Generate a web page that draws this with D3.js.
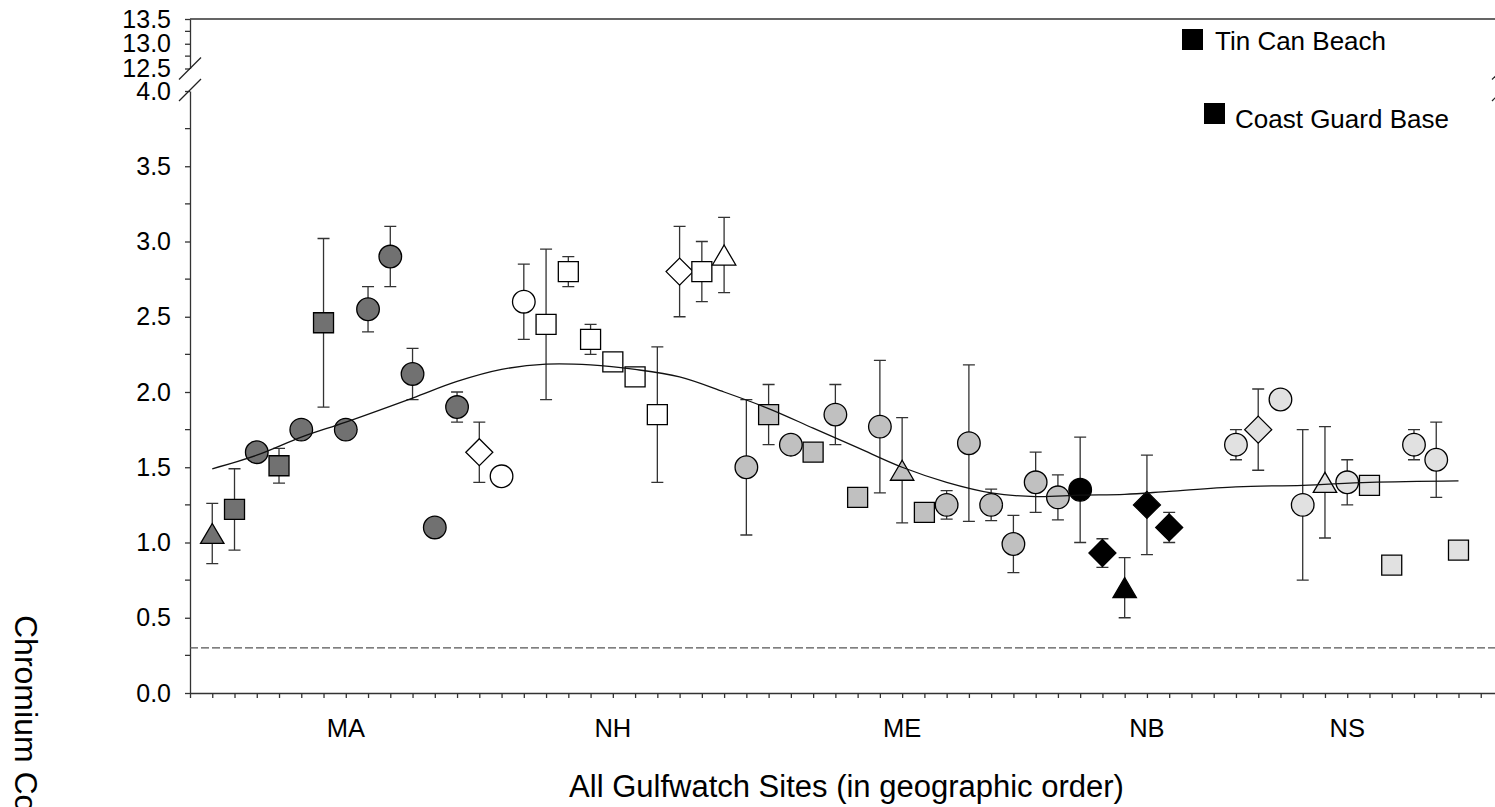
<!DOCTYPE html>
<html>
<head>
<meta charset="utf-8">
<script src="https://cdn.jsdelivr.net/npm/d3@7/dist/d3.min.js"></script>
<style>
    body { margin: 0; background: #fff; }
    svg { display: block; font-family: "Liberation Sans", Arial, sans-serif; }
</style>
</head>
<body>
<div id="chart"></div>
<script>
'use strict';

// site number along the coast (45 and 46 have no sample)
var siteOrder = [1, 2, 3, 4, 5, 6, 7, 8, 9, 10, 11, 12,
    13, 14, 15, 16, 17, 18, 19, 20, 21, 22, 23, 24,
    25, 26, 27, 28, 29, 30, 31, 32, 33, 34, 35, 36, 37, 38, 39,
    40, 41, 42, 43, 44,
    47, 48, 49, 50, 51, 52, 53, 54, 55, 56, 57];
var chromiumMean = [1.06, 1.22, 1.60, 1.51, 1.75, 2.46, 1.75, 2.55, 2.90, 2.12, 1.10, 1.90,
    1.60, 1.44, 2.60, 2.45, 2.80, 2.35, 2.20, 2.10, 1.85, 2.80, 2.80, 2.91,
    1.50, 1.85, 1.65, 1.60, 1.85, 1.30, 1.77, 1.48, 1.20, 1.25, 1.66, 1.25, 0.99, 1.40, 1.30,
    1.35, 0.93, 0.70, 1.25, 1.10,
    1.65, 1.75, 1.95, 1.25, 1.40, 1.40, 1.38, 0.85, 1.65, 1.55, 0.95];
var chromiumSd = [0.20, 0.27, null, 0.115, null, 0.56, null, 0.15, 0.20, 0.17, null, 0.10,
    0.20, null, 0.25, 0.50, 0.10, 0.10, null, null, 0.45, 0.30, 0.20, 0.25,
    0.45, 0.20, null, null, 0.20, null, 0.44, 0.35, null, 0.095, 0.52, 0.105, 0.19, 0.20, 0.15,
    0.35, 0.095, 0.20, 0.33, 0.10,
    0.10, 0.27, null, 0.50, 0.37, 0.15, null, null, 0.10, 0.25, null];
var markerShape = ['triangle', 'square', 'circle', 'square', 'circle', 'square', 'circle', 'circle', 'circle', 'circle', 'circle', 'circle',
    'diamond', 'circle', 'circle', 'square', 'square', 'square', 'square', 'square', 'square', 'diamond', 'square', 'triangle',
    'circle', 'square', 'circle', 'square', 'circle', 'square', 'circle', 'triangle', 'square', 'circle', 'circle', 'circle', 'circle', 'circle', 'circle',
    'circle', 'diamond', 'triangle', 'diamond', 'diamond',
    'circle', 'diamond', 'circle', 'circle', 'triangle', 'circle', 'square', 'square', 'circle', 'circle', 'square'];
var siteState = ['MA', 'MA', 'MA', 'MA', 'MA', 'MA', 'MA', 'MA', 'MA', 'MA', 'MA', 'MA',
    'NH', 'NH', 'NH', 'NH', 'NH', 'NH', 'NH', 'NH', 'NH', 'NH', 'NH', 'NH',
    'ME', 'ME', 'ME', 'ME', 'ME', 'ME', 'ME', 'ME', 'ME', 'ME', 'ME', 'ME', 'ME', 'ME', 'ME',
    'NB', 'NB', 'NB', 'NB', 'NB',
    'NS', 'NS', 'NS', 'NS', 'NS', 'NS', 'NS', 'NS', 'NS', 'NS', 'NS'];

var stateNames = ['MA', 'NH', 'ME', 'NB', 'NS'];
var stateLabelSite = [7, 19, 32, 43, 52];

// smoothed trend
var trendSite = [1, 3, 5, 7, 10, 12, 14, 16, 18, 20, 22, 24, 26, 28, 30, 32, 34, 36, 38, 40, 42, 44, 47, 50, 53, 57];
var trendValue = [1.49, 1.58, 1.70, 1.80, 1.96, 2.07, 2.15, 2.185, 2.18, 2.15, 2.10, 2.00, 1.89, 1.76, 1.63, 1.50,
    1.40, 1.33, 1.305, 1.315, 1.32, 1.34, 1.37, 1.38, 1.40, 1.41];

var lowerTicks = [0, 0.5, 1, 1.5, 2, 2.5, 3, 3.5, 4];
var lowerMinor = [0.25, 0.75, 1.25, 1.75, 2.25, 2.75, 3.25, 3.75];
var upperTicks = [12.5, 13, 13.5];
var upperMinor = [12.75, 13.25];
var detectionLimit = 0.3;
var legendLabels = ['Tin Can Beach', 'Coast Guard Base'];

var stateFill = { MA: '#717171', NH: '#ffffff', ME: '#c0c0c0', NB: '#000000', NS: '#e1e1e1' };

var width = 1495, height = 807;
var left = 190, right = 1503;

var svg = d3.select('#chart').append('svg')
    .attr('width', width)
    .attr('height', height);

var x = d3.scaleLinear().domain([0, 59]).range([left, right]);
var yLow = d3.scaleLinear().domain([0, 4]).range([693, 91]);
var yUp = d3.scaleLinear().domain([12.5, 13.5]).range([68.5, 19]);

var fmt = d3.format('.1f');

var drawAxis = function (scale, ticks, minor) {
    var g = svg.append('g')
        .attr('transform', 'translate(' + left + ',0)')
        .call(d3.axisLeft(scale).tickValues(ticks).tickFormat(fmt)
            .tickSize(5).tickSizeOuter(0).tickPadding(14));
    g.selectAll('.tick text').attr('font-size', 25).attr('fill', '#000');
    g.selectAll('line, path').attr('stroke', '#333').attr('stroke-width', 1.3);
    g.selectAll('.minor')
        .data(minor)
        .enter()
        .append('line')
        .attr('x1', -5).attr('x2', 0)
        .attr('y1', function (d) { return scale(d); })
        .attr('y2', function (d) { return scale(d); })
        .attr('stroke', '#333').attr('stroke-width', 1.3);
};

drawAxis(yLow, lowerTicks, lowerMinor);
drawAxis(yUp, upperTicks, upperMinor);

// frame: top and right edges
svg.append('path')
    .attr('d', 'M' + left + ',' + yUp(13.5) + 'H' + right + 'V' + yUp(12.5)
        + 'M' + right + ',' + yLow(4) + 'V' + yLow(0))
    .attr('fill', 'none').attr('stroke', '#333').attr('stroke-width', 1.3);

// break marks on both vertical axes
[left, right].forEach(function (bx) {
    [yUp(12.5), yLow(4) - 1].forEach(function (by) {
        svg.append('line')
            .attr('x1', bx - 11).attr('y1', by + 11)
            .attr('x2', bx + 11).attr('y2', by - 11)
            .attr('stroke', '#222').attr('stroke-width', 1.2);
    });
});

var xAxis = svg.append('g')
    .attr('transform', 'translate(0,' + yLow(0) + ')')
    .call(d3.axisBottom(x).tickValues(d3.range(0, 60)).tickFormat('')
        .tickSize(5).tickSizeOuter(0));
xAxis.selectAll('line, path').attr('stroke', '#333').attr('stroke-width', 1.3);

svg.selectAll('.state')
    .data(stateNames)
    .enter()
    .append('text')
    .attr('x', function (d, i) { return x(stateLabelSite[i]); })
    .attr('y', 737)
    .attr('text-anchor', 'middle')
    .attr('font-size', 25.5)
    .text(function (d) { return d; });

svg.append('text')
    .attr('x', (left + right) / 2)
    .attr('y', 797)
    .attr('text-anchor', 'middle')
    .attr('font-size', 31)
    .text('All Gulfwatch Sites (in geographic order)');

svg.append('text')
    .attr('transform', 'translate(15,615) rotate(90)')
    .attr('font-size', 32)
    .text('Chromium Concentration (\u00b5g/g dry wt)');

// detection limit
svg.append('line')
    .attr('x1', left).attr('x2', right)
    .attr('y1', yLow(detectionLimit)).attr('y2', yLow(detectionLimit))
    .attr('stroke', '#555').attr('stroke-width', 1.2)
    .attr('stroke-dasharray', '8,3');

var sites = siteOrder.map(function (s, i) {
    return { site: s, mean: chromiumMean[i], sd: chromiumSd[i], shape: markerShape[i], state: siteState[i] };
});

var withErr = sites.filter(function (d) { return d.sd !== null; });
var errG = svg.append('g').attr('stroke', '#333').attr('stroke-width', 1.3);
errG.selectAll('path')
    .data(withErr)
    .enter()
    .append('path')
    .attr('fill', 'none')
    .attr('d', function (d) {
        var cx = x(d.site), top = yLow(d.mean + d.sd), bot = yLow(d.mean - d.sd);
        return 'M' + cx + ',' + top + 'V' + bot
            + 'M' + (cx - 6) + ',' + top + 'H' + (cx + 6)
            + 'M' + (cx - 6) + ',' + bot + 'H' + (cx + 6);
    });

var markerPath = function (shape, cx, cy) {
    var p = d3.path();
    if (shape === 'circle') {
        p.moveTo(cx + 11.3, cy);
        p.arc(cx, cy, 11.3, 0, 2 * Math.PI);
    } else if (shape === 'square') {
        p.rect(cx - 10, cy - 10, 20, 20);
    } else if (shape === 'triangle') {
        p.moveTo(cx, cy - 10);
        p.lineTo(cx + 11.7, cy + 10);
        p.lineTo(cx - 11.7, cy + 10);
        p.closePath();
    } else {
        p.moveTo(cx, cy - 13.5);
        p.lineTo(cx + 13.5, cy);
        p.lineTo(cx, cy + 13.5);
        p.lineTo(cx - 13.5, cy);
        p.closePath();
    }
    return p.toString();
};

svg.append('g').selectAll('path')
    .data(sites)
    .enter()
    .append('path')
    .attr('d', function (d) { return markerPath(d.shape, x(d.site), yLow(d.mean)); })
    .attr('fill', function (d) { return stateFill[d.state]; })
    .attr('stroke', '#000')
    .attr('stroke-width', 1.3);

var trend = d3.line()
    .x(function (d, i) { return x(trendSite[i]); })
    .y(function (d) { return yLow(d); })
    .curve(d3.curveCatmullRom);

svg.append('path')
    .datum(trendValue)
    .attr('d', trend)
    .attr('fill', 'none')
    .attr('stroke', '#111')
    .attr('stroke-width', 1.3);

// legend
var legend = svg.append('g');
[[1182, 29, 1215, 50], [1204, 103, 1235, 128]].forEach(function (p, i) {
    legend.append('rect')
        .attr('x', p[0]).attr('y', p[1])
        .attr('width', 21).attr('height', 21)
        .attr('fill', '#000');
    legend.append('text')
        .attr('x', p[2]).attr('y', p[3])
        .attr('font-size', 26)
        .text(legendLabels[i]);
});
</script>
</body>
</html>
